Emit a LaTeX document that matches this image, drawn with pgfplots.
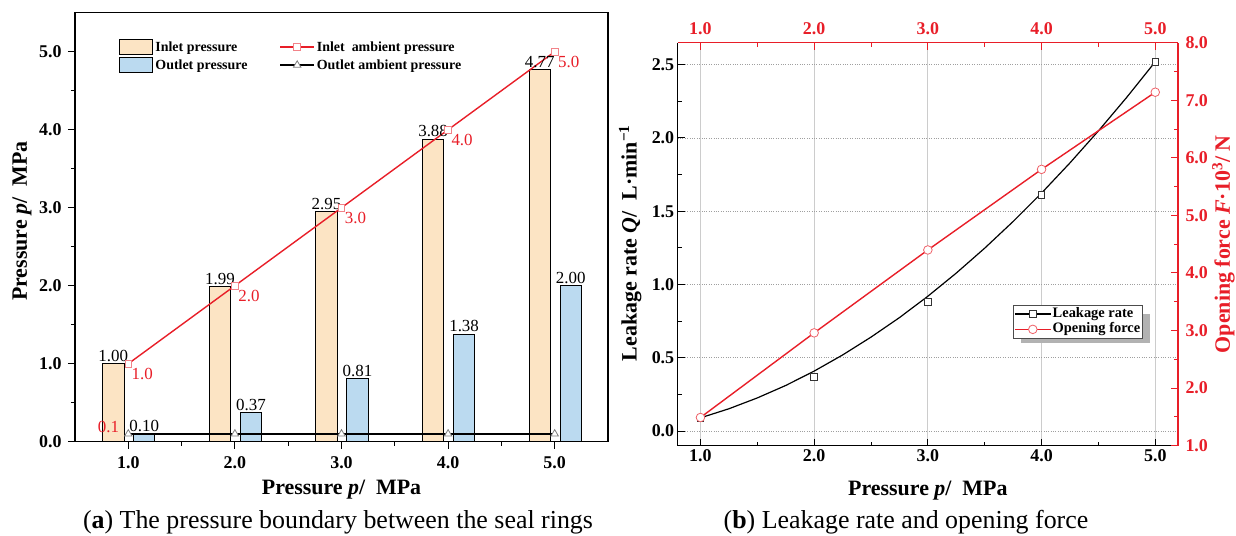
\documentclass[border=0pt]{standalone}
\usepackage{pgfplots}
\pgfplotsset{compat=1.18}
\usepackage{fontspec}
\setmainfont{Liberation Serif}
\definecolor{inletc}{RGB}{252,228,196}
\definecolor{outletc}{RGB}{187,218,240}
\definecolor{myred}{RGB}{232,30,40}
\pgfplotsset{
  barlegend/.style={legend image code/.code={\draw[##1] (0bp,-7.5bp) rectangle (33bp,7.5bp);}},
  linelegend/.style={legend image code/.code={\draw[mark repeat=2,mark phase=2,##1] plot coordinates {(0bp,0bp) (17bp,0bp) (34bp,0bp)};}},
  linelegendb/.style={legend image code/.code={\draw[mark repeat=2,mark phase=2,##1] plot coordinates {(0bp,0bp) (18bp,0bp) (36bp,0bp)};}},
}
\begin{document}
\begin{tikzpicture}
\useasboundingbox (0bp,0bp) rectangle (1236bp,-536bp);
% ---------------- panel (a) ----------------
\begin{axis}[
  at={(75bp,-441.7bp)}, anchor=south west,
  width=533bp, height=429bp, scale only axis,
  xmin=0.5, xmax=5.5, ymin=0, ymax=5.5,
  xtick={1,2,3,4,5}, xticklabels={1.0,2.0,3.0,4.0,5.0},
  ytick={0,1,2,3,4,5},
  minor x tick num=1, minor y tick num=1,
  xtick pos=left, ytick pos=left,
  tick align=outside,
  major tick length=7bp, minor tick length=4bp,
  every tick/.style={black, line width=1bp},
  axis line style={line width=1.3bp},
  /pgf/number format/assume math mode=true,
  yticklabel style={/pgf/number format/.cd, fixed, fixed zerofill, precision=1, /tikz/.cd, xshift=-3bp},
  xticklabel style={yshift=-4bp},
  ticklabel style={font=\bfseries\fontsize{18}{18}\selectfont},
  xlabel={Pressure \textit{p}/\ \ MPa},
  ylabel={Pressure \textit{p}/\ \ MPa},
  label style={font=\bfseries\fontsize{22}{22}\selectfont},
  xlabel style={at={(axis description cs:0.5,-0.1126)}, anchor=center},
  ylabel style={at={(axis description cs:-0.0994,0.514)}, anchor=center},
  legend columns=2,
  legend cell align=left,
  legend style={draw=none, fill=none, at={(axis description cs:0.083,0.939)}, anchor=north west,
    font=\bfseries\fontsize{14}{14}\selectfont, inner sep=0pt, row sep=2bp,
    /tikz/every even column/.append style={column sep=30bp}},
]
\addplot[ybar, bar width=0.2, bar shift=-0.14, fill=inletc, draw=black, line width=1bp,
  nodes near coords={\pgfmathprintnumber[fixed,fixed zerofill,precision=2]{\pgfplotspointmeta}},
  every node near coord/.append style={font=\fontsize{17}{17}\selectfont, black, inner sep=1.5bp, xshift=-15bp},
  barlegend]
  coordinates {(1,1.00) (2,1.99) (3,2.95) (4,3.88) (5,4.77)};
\addlegendentry{Inlet pressure}
\addplot[myred, line width=1.4bp, mark=square*, mark size=3.3bp,
  mark options={fill=white, draw=myred!55, line width=0.8bp},
  nodes near coords={\pgfmathprintnumber[fixed,fixed zerofill,precision=1]{\pgfplotspointmeta}},
  every node near coord/.append style={anchor=north west, text=myred, font=\fontsize{17}{17}\selectfont, inner sep=1bp, xshift=2bp, yshift=-3bp},
  linelegend]
  coordinates {(1,1) (2,2) (3,3) (4,4) (5,5)};
\addlegendentry{Inlet\ \ ambient pressure}
\addplot[ybar, bar width=0.2, bar shift=0.15, fill=outletc, draw=black, line width=1bp,
  nodes near coords={\pgfmathprintnumber[fixed,fixed zerofill,precision=2]{\pgfplotspointmeta}},
  every node near coord/.append style={font=\fontsize{17}{17}\selectfont, black, inner sep=1.5bp, xshift=16bp},
  barlegend]
  coordinates {(1,0.10) (2,0.37) (3,0.81) (4,1.38) (5,2.00)};
\addlegendentry{Outlet pressure}
\addplot[black, line width=1.2bp, mark=triangle*, mark size=4.3bp,
  mark options={fill=white, draw=gray, line width=0.8bp},
  linelegend]
  coordinates {(1,0.1) (2,0.1) (3,0.1) (4,0.1) (5,0.1)};
\addlegendentry{Outlet ambient pressure}
\addplot[draw=none, mark=none, forget plot,
  nodes near coords={\pgfmathprintnumber[fixed,fixed zerofill,precision=1]{\pgfplotspointmeta}},
  every node near coord/.append style={anchor=south east, text=myred, font=\fontsize{17}{17}\selectfont, inner sep=1bp, xshift=-8bp, yshift=0bp}]
  coordinates {(1,0.1)};
\end{axis}
% ---------------- panel (b) ----------------
\begin{axis}[
  at={(677.7bp,-445.7bp)}, anchor=south west,
  width=500.3bp, height=403bp, scale only axis,
  xmin=0.8, xmax=5.2, ymin=-0.1, ymax=2.65,
  axis x line*=bottom, axis y line*=left,
  xtick={1,2,3,4,5}, xticklabels={1.0,2.0,3.0,4.0,5.0},
  ytick={0,0.5,1,1.5,2,2.5},
  minor x tick num=1, minor y tick num=1,
  tick align=inside,
  major tick length=7bp, minor tick length=4bp,
  every tick/.style={black, line width=1bp},
  axis line style={line width=1.5bp, black},
  xmajorgrids, ymajorgrids,
  x grid style={gray!40, line width=0.9bp},
  y grid style={gray!75, dotted, line width=0.9bp},
  /pgf/number format/assume math mode=true,
  yticklabel style={/pgf/number format/.cd, fixed, fixed zerofill, precision=1},
  ticklabel style={font=\bfseries\fontsize{18}{18}\selectfont},
  xlabel={Pressure \textit{p}/\ \ MPa},
  ylabel={Leakage rate \textit{Q}/\ \ L·min\textsuperscript{−1}},
  label style={font=\bfseries\fontsize{22}{22}\selectfont},
  xlabel style={at={(axis description cs:0.5,-0.1112)}, anchor=center},
  ylabel style={at={(axis description cs:-0.095,0.503)}, anchor=center},
]
\addplot[black, line width=1.2bp] coordinates {
  (1,0.09) (1.25,0.152) (1.5,0.226) (1.75,0.311) (2,0.409) (2.25,0.519) (2.5,0.641)
  (2.75,0.774) (3,0.92) (3.25,1.078) (3.5,1.248) (3.75,1.430) (4,1.624) (4.25,1.830)
  (4.5,2.048) (4.75,2.278) (5,2.52)};
\addplot[only marks, mark=square*, mark size=3.3bp, mark options={fill=white, draw=black!80, line width=0.8bp}]
  coordinates {(1,0.09) (2,0.37) (3,0.88) (4,1.61) (5,2.52)};
\end{axis}
% legend shadow
\fill[gray!60] (1020.7bp,-314bp) rectangle (1150bp,-343bp);
\begin{axis}[
  at={(677.7bp,-445.7bp)}, anchor=south west,
  width=500.3bp, height=403bp, scale only axis,
  xmin=0.8, xmax=5.2, ymin=1, ymax=8,
  axis x line*=top, axis y line*=right,
  xtick={1,2,3,4,5}, xticklabels={1.0,2.0,3.0,4.0,5.0},
  ytick={1,2,3,4,5,6,7,8},
  minor x tick num=1, minor y tick num=1,
  tick align=inside,
  major tick length=7bp, minor tick length=4bp,
  every tick/.style={myred, line width=1bp},
  axis line style={line width=1.5bp, myred},
  /pgf/number format/assume math mode=true,
  yticklabel style={/pgf/number format/.cd, fixed, fixed zerofill, precision=1, /tikz/.cd, xshift=4bp},
  xticklabel style={yshift=4bp},
  ticklabel style={font=\bfseries\fontsize{18}{18}\selectfont, text=myred},
  ylabel={Opening force \textit{F}·10\textsuperscript{3}/ N},
  label style={font=\bfseries\fontsize{22}{22}\selectfont},
  ylabel style={at={(axis description cs:1.091,0.5)}, anchor=center, text=myred},
  legend cell align=left,
  linelegendb,
  legend style={draw=black!70, fill=white, at={(axis description cs:0.67,0.349)}, anchor=north west,
    font=\bfseries\fontsize{14.5}{14.5}\selectfont, inner sep=1bp, row sep=0bp,
    nodes={inner sep=1.2bp, text height=10bp, text depth=3bp}},
]
\addlegendimage{black, line width=1.2bp, mark=square*, mark size=3.3bp, mark options={fill=white, draw=black!80, line width=0.8bp}}
\addlegendentry{Leakage rate}
\addplot[myred, line width=1.4bp, mark=*, mark size=4.3bp, mark options={fill=white, draw=myred!70, line width=0.8bp}]
  coordinates {(1,1.49) (2,2.96) (3,4.40) (4,5.80) (5,7.14)};
\addlegendentry{Opening force}
\end{axis}
% captions
\node[font=\fontsize{26}{26}\selectfont, anchor=base] at (338bp,-528bp) {(\textbf{a}) The pressure boundary between the seal rings};
\node[font=\fontsize{26}{26}\selectfont, anchor=base] at (906bp,-528bp) {(\textbf{b}) Leakage rate and opening force};
\end{tikzpicture}
\end{document}
